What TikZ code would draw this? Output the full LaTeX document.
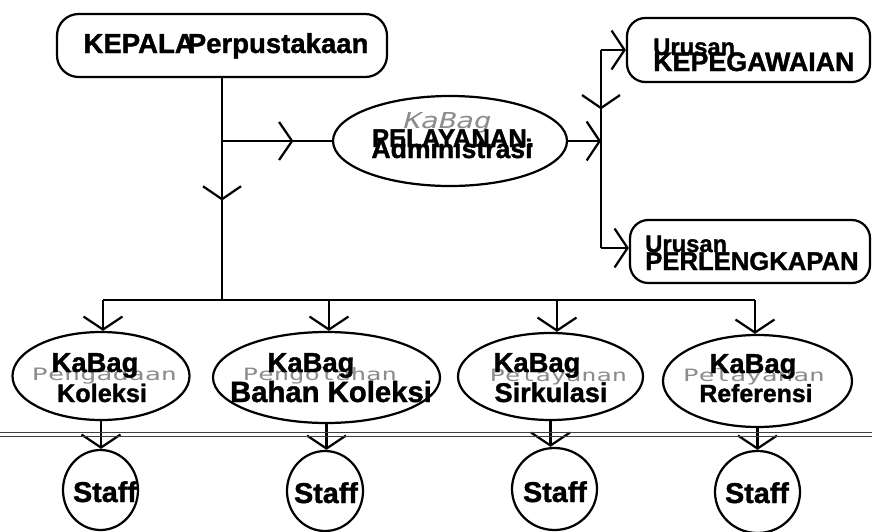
\documentclass[tikz,border=0pt]{standalone}
\usepackage{fontspec}
\usepackage{graphicx}
\setmainfont{Liberation Sans}[BoldFeatures={FakeBold=1.3}]
\newfontfamily\ghostfont{DejaVu Sans Mono}
\newfontfamily\ghostslant{DejaVu Sans Mono}[FakeSlant=0.2]
\usetikzlibrary{shapes.geometric, arrows.meta, decorations.markings}

\tikzset{
  conn/.style={line width=1.9pt},
  barb/.style={-{Straight Barb[length=0.39cm,width=1.17cm]}},
  midbarb/.style={postaction={decorate},
    decoration={markings, mark=at position #1 with {\arrow{Straight Barb[length=0.39cm,width=1.14cm]}}}},
  pill/.style={draw, line width=1.9pt, rectangle, inner sep=0},
  oval/.style={draw, line width=1.9pt, ellipse, inner sep=0},
  lbl/.style={inner sep=0, anchor=base, font=\bfseries\fontsize{#1}{#1}\selectfont},
  lbl/.default=23pt,
  ghost/.style={inner sep=0, anchor=base, text=black!45, font=\ghostfont},
  rule/.style={black!75, line width=0.7pt},
}

\begin{document}
\begin{tikzpicture}[x=0.03cm, y=-0.03cm]
\useasboundingbox (0,0) rectangle (872,531);

% ---- boxes ----
\node[pill, rounded corners=0.65cm, minimum width=9.9cm, minimum height=1.89cm] (kepala) at (222,45.5) {};
\node[oval, minimum width=7.02cm, minimum height=2.7cm] (adm) at (450,141) {};
\node[pill, rounded corners=0.55cm, minimum width=7.29cm, minimum height=1.92cm] (kep) at (748.5,50) {};
\node[pill, rounded corners=0.55cm, minimum width=7.2cm, minimum height=1.89cm] (perl) at (750,251.5) {};

\node[oval, minimum width=5.31cm, minimum height=2.64cm] (e1) at (101,376) {};
\node[oval, minimum width=6.81cm, minimum height=2.73cm] (e2) at (326.5,377.5) {};
\node[oval, minimum width=5.55cm, minimum height=2.61cm] (e3) at (550.5,376.5) {};
\node[oval, minimum width=5.67cm, minimum height=2.76cm] (e4) at (757.5,381) {};

\node[oval, minimum width=2.25cm, minimum height=2.4cm] (s1) at (100.5,490) {};
\node[oval, minimum width=2.28cm, minimum height=2.4cm] (s2) at (325,491) {};
\node[oval, minimum width=2.55cm, minimum height=2.46cm] (s3) at (554.5,489) {};
\node[oval, minimum width=2.55cm, minimum height=2.46cm] (s4) at (757.5,492) {};

% ---- box texts ----
\node[lbl=23.5pt] (kepala-t) at (226,53) {KEPALA\kern-0.25em Perpustakaan};

\node[ghost] (adm-g) at (446,128) {\ghostslant\resizebox{2.64cm}{0.48cm}{KaBag}};
\node[lbl=21.9pt] (adm-t1) at (453,147) {PELAYANAN.};
\node[lbl=22.7pt] (adm-t2) at (452,158) {Administrasi};

\node[lbl=20.3pt, anchor=base west] (kep-t1) at (653,55) {Urusan};
\node[lbl=22.9pt, anchor=base west] (kep-t2) at (653,71) {KEPEGAWAIAN};
\node[lbl=20.3pt, anchor=base west] (perl-t1) at (645,252) {Urusan};
\node[lbl=21.9pt, anchor=base west] (perl-t2) at (645,270) {PERLENGKAPAN};

\node[ghost] (e1-g) at (104.5,380) {\resizebox{4.35cm}{0.39cm}{Pengadaan}};
\node[lbl=23.4pt] (e1-t1) at (95,372) {KaBag};
\node[lbl=21.6pt] (e1-t2) at (102,402) {Koleksi};

\node[ghost] (e2-g) at (320,380) {\resizebox{4.62cm}{0.39cm}{Pengolahan}};
\node[lbl=23.4pt] (e2-t1) at (311,372) {KaBag};
\node[lbl=25pt] (e2-t2) at (331,402) {Bahan Koleksi};

\node[ghost] (e3-g) at (558.5,381) {\resizebox{4.11cm}{0.39cm}{Pelayanan}};
\node[lbl=23.4pt] (e3-t1) at (537,372) {KaBag};
\node[lbl=23.1pt] (e3-t2) at (551,402) {Sirkulasi};

\node[ghost] (e4-g) at (754,381) {\resizebox{4.26cm}{0.39cm}{Pelayanan}};
\node[lbl=23.4pt] (e4-t1) at (753,373) {KaBag};
\node[lbl=21.2pt] (e4-t2) at (756,402) {Referensi};

\node[lbl=24.5pt] (s1-t) at (105,502) {Staff};
\node[lbl=24.5pt] (s2-t) at (326,503) {Staff};
\node[lbl=24.5pt] (s3-t) at (555,502) {Staff};
\node[lbl=24.5pt] (s4-t) at (757,503) {Staff};

% ---- junction points ----
\coordinate (tee) at (222,141);
\coordinate (bus) at (222,300);
\coordinate (jmid) at (601,141);
\coordinate (jtop) at (601,50);
\coordinate (jbot) at (601,248);
\coordinate (b1) at (103,300);
\coordinate (b2) at (329,300);
\coordinate (b3) at (557,300);
\coordinate (b4) at (755,300);

% ---- connectors ----
\draw[conn, midbarb=0.552] (kepala.south) -- (bus);
\draw[conn, midbarb=0.65] (tee) -- (adm.west);
\draw[conn, barb] (adm.east) -- (jmid);
\draw[conn, midbarb=0.30] (jtop) -- (jbot);
\draw[conn, barb] (jtop) -- (kep.west);
\draw[conn, barb] (jbot) -- (jbot -| perl.west);

\draw[conn] (b1) -- (b4);
\draw[conn, barb] (b1) -- (b1 |- e1.north);
\draw[conn, barb] (b2) -- (b2 |- e2.north);
\draw[conn, barb] (b3) -- (b3 |- e3.north);
\draw[conn, barb] (b4) -- (b4 |- e4.north);

\draw[conn, barb] (e1.south) -- (e1.south |- s1.north);
\draw[conn, barb] (e2.south) -- (e2.south |- s2.north);
\draw[conn, barb] (e3.south) -- (e3.south |- s3.north);
\draw[conn, barb] (e4.south) -- (e4.south |- s4.north);

% ---- page rule ----
\draw[rule] (0,432) -- (872,432);
\draw[rule] (0,436.5) -- (872,436.5);
\end{tikzpicture}
\end{document}
